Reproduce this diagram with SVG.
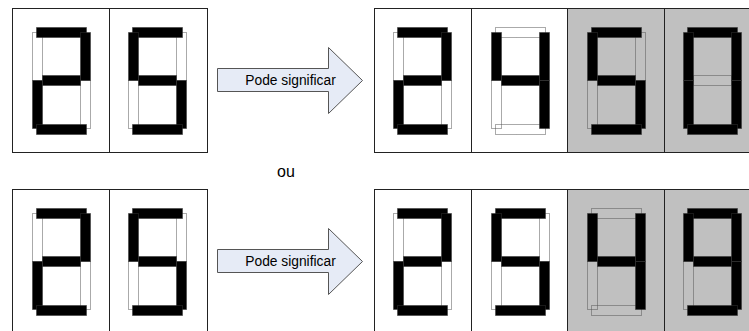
<svg xmlns="http://www.w3.org/2000/svg" xmlns:xlink="http://www.w3.org/1999/xlink" width="749" height="331" viewBox="0 0 749 331">
  <style>
    .cell { fill: #ffffff; stroke: #222222; stroke-width: 1; }
    .cell.dim { fill: #c0c0c0; }
    .on { fill: #000000; stroke: #333333; stroke-width: 1; stroke-dasharray: 1 1; }
    .off { fill: none; stroke: #555555; stroke-width: 1; stroke-dasharray: 1 1; }
    .arrow { fill: #e6ebf6; stroke: #555555; stroke-width: 1; }
    .label { font-family: "Liberation Sans", Arial, sans-serif; font-size: 13.8px; fill: #000000; text-anchor: middle; }
    .ou { font-family: "Liberation Sans", Arial, sans-serif; font-size: 16px; fill: #000000; text-anchor: middle; }
  </style>
  <defs>
    <!-- seven-segment layout, relative to the digit's top-left corner -->
    <rect id="sa" x="4.5" y="0.5" width="50" height="10"/>
    <rect id="sf" x="0.5" y="5.5" width="10" height="48"/>
    <rect id="sb" x="48.5" y="5.5" width="10" height="48"/>
    <rect id="sg" x="10.5" y="48.5" width="38" height="10"/>
    <rect id="se" x="0.5" y="53.5" width="10" height="48"/>
    <rect id="sc" x="48.5" y="53.5" width="10" height="48"/>
    <rect id="sd" x="4.5" y="97.5" width="50" height="10"/>
    <!-- digit glyphs: lit segments black, unlit ones dashed -->
    <g id="d2">
      <use xlink:href="#sf" class="off"/><use xlink:href="#sc" class="off"/>
      <use xlink:href="#sa" class="on"/><use xlink:href="#sb" class="on"/><use xlink:href="#sg" class="on"/>
      <use xlink:href="#se" class="on"/><use xlink:href="#sd" class="on"/>
    </g>
    <g id="d5">
      <use xlink:href="#sb" class="off"/><use xlink:href="#se" class="off"/>
      <use xlink:href="#sa" class="on"/><use xlink:href="#sf" class="on"/><use xlink:href="#sg" class="on"/>
      <use xlink:href="#sc" class="on"/><use xlink:href="#sd" class="on"/>
    </g>
    <g id="d4">
      <use xlink:href="#sa" class="off"/><use xlink:href="#se" class="off"/><use xlink:href="#sd" class="off"/>
      <use xlink:href="#sf" class="on"/><use xlink:href="#sb" class="on"/><use xlink:href="#sg" class="on"/>
      <use xlink:href="#sc" class="on"/>
    </g>
    <g id="d0">
      <use xlink:href="#sg" class="off"/>
      <use xlink:href="#sa" class="on"/><use xlink:href="#sf" class="on"/><use xlink:href="#sb" class="on"/>
      <use xlink:href="#se" class="on"/><use xlink:href="#sc" class="on"/><use xlink:href="#sd" class="on"/>
    </g>
    <g id="d9">
      <use xlink:href="#se" class="off"/>
      <use xlink:href="#sa" class="on"/><use xlink:href="#sf" class="on"/><use xlink:href="#sb" class="on"/>
      <use xlink:href="#sg" class="on"/><use xlink:href="#sc" class="on"/><use xlink:href="#sd" class="on"/>
    </g>
  </defs>

  <!-- top row: display "25" -->
  <g id="display-top-left">
    <rect class="cell" x="12.5" y="8.5" width="97" height="144"/>
    <rect class="cell" x="109.5" y="8.5" width="98" height="144"/>
    <use xlink:href="#d2" x="32" y="27"/>
    <use xlink:href="#d5" x="128" y="27"/>
  </g>

  <!-- top row: reading "2450" -->
  <g id="display-top-right">
    <rect class="cell" x="374.5" y="8.5" width="97" height="144"/>
    <rect class="cell" x="471.5" y="8.5" width="96" height="144"/>
    <rect class="cell dim" x="567.5" y="8.5" width="97" height="144"/>
    <rect class="cell dim" x="664.5" y="8.5" width="97" height="144"/>
    <use xlink:href="#d2" x="393" y="27"/>
    <use xlink:href="#d4" x="491" y="27"/>
    <use xlink:href="#d5" x="587" y="27"/>
    <use xlink:href="#d0" x="683" y="27"/>
  </g>

  <g id="separator">
    <text class="ou" x="286" y="177">ou</text>
  </g>

  <!-- bottom row: display "25" -->
  <g id="display-bottom-left">
    <rect class="cell" x="12.5" y="189.5" width="97" height="150"/>
    <rect class="cell" x="109.5" y="189.5" width="98" height="150"/>
    <use xlink:href="#d2" x="32" y="208"/>
    <use xlink:href="#d5" x="128" y="208"/>
  </g>

  <!-- bottom row: reading "2549" -->
  <g id="display-bottom-right">
    <rect class="cell" x="374.5" y="189.5" width="97" height="150"/>
    <rect class="cell" x="471.5" y="189.5" width="96" height="150"/>
    <rect class="cell dim" x="567.5" y="189.5" width="97" height="150"/>
    <rect class="cell dim" x="664.5" y="189.5" width="97" height="150"/>
    <use xlink:href="#d2" x="393" y="208"/>
    <use xlink:href="#d5" x="491" y="208"/>
    <use xlink:href="#d4" x="587" y="208"/>
    <use xlink:href="#d9" x="683" y="208"/>
  </g>

  <g id="connectors">
    <g id="arrow-top">
      <polygon class="arrow" points="217.5,68.5 328.5,68.5 328.5,47.5 362.5,80.5 328.5,113.5 328.5,91.5 217.5,91.5"/>
      <text class="label" x="290.5" y="85">Pode significar</text>
    </g>
    <g id="arrow-bottom">
      <polygon class="arrow" points="217.5,249.5 328.5,249.5 328.5,228.5 362.5,261.5 328.5,294.5 328.5,272.5 217.5,272.5"/>
      <text class="label" x="290.5" y="266">Pode significar</text>
    </g>
  </g>
</svg>
